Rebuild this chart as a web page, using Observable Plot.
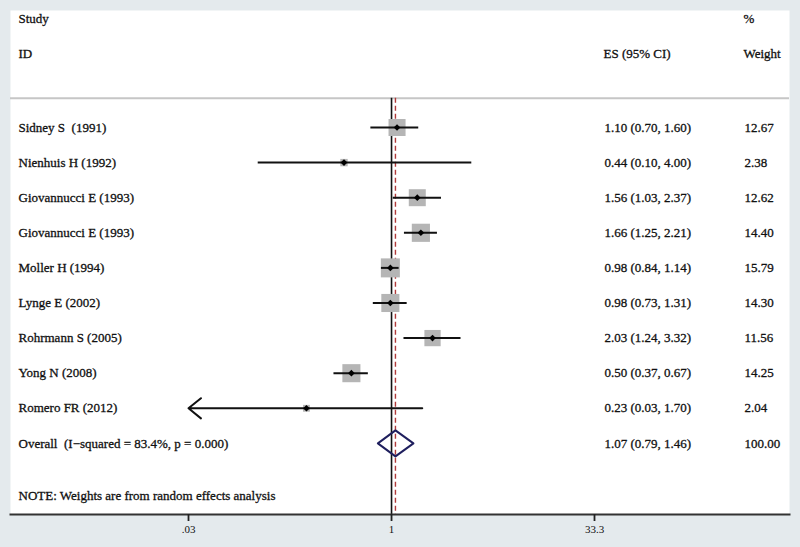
<!DOCTYPE html>
<html>
<head>
<meta charset="utf-8">
<script src="https://cdn.jsdelivr.net/npm/d3@7"></script>
<script src="https://cdn.jsdelivr.net/npm/@observablehq/plot@0.6"></script>
<style>
  html, body { margin: 0; padding: 0; background: #e4eaed; }
  svg text { white-space: pre; }
</style>
</head>
<body>
<div id="chart"></div>
<script>
const studies = ["Sidney S  (1991)", "Nienhuis H (1992)", "Giovannucci E (1993)", "Giovannucci E (1993)", "Moller H (1994)", "Lynge E (2002)", "Rohrmann S (2005)", "Yong N (2008)", "Romero FR (2012)"];
const es     = [1.10, 0.44, 1.56, 1.66, 0.98, 0.98, 2.03, 0.50, 0.23];
const lo     = [0.70, 0.10, 1.03, 1.25, 0.84, 0.73, 1.24, 0.37, 0.03];
const hi     = [1.60, 4.00, 2.37, 2.21, 1.14, 1.31, 3.32, 0.67, 1.70];
const weight = [12.67, 2.38, 12.62, 14.40, 15.79, 14.30, 11.56, 14.25, 2.04];

const overallLabel = "Overall  (I\u2212squared = 83.4%, p = 0.000)";
const overallES = 1.07, overallLo = 0.79, overallHi = 1.46, overallWeight = 100.00;
const note = "NOTE: Weights are from random effects analysis";

const tickValues = [0.03, 1, 33.3];
const tickLabels = [".03", "1", "33.3"];

const fmt = d3.format(".2f");
const rows = studies.map((s, i) => ({
  row: i, study: s, es: es[i], lo: lo[i], hi: hi[i], weight: weight[i],
  esText: `${fmt(es[i])} (${fmt(lo[i])}, ${fmt(hi[i])})`,
  wText: fmt(weight[i])
}));
const overallRow = studies.length;
const allRows = [...rows, {
  row: overallRow, study: overallLabel,
  esText: `${fmt(overallES)} (${fmt(overallLo)}, ${fmt(overallHi)})`,
  wText: fmt(overallWeight)
}];
const tickLabelFor = d => {
  const i = tickValues.findIndex(v => Math.abs(Math.log(v) - Math.log(+d)) < 1e-6);
  return i >= 0 ? tickLabels[i] : "";
};

const xMin = tickValues[0];
const headerRowStudy = -3.1, headerRowID = -2.1, sepRow = -0.83, noteRow = 10.5;
const yTop = -3.333, yBottom = 11.026;

const dh = 0.37;
const diamond = [
  {x: overallLo, y: overallRow},
  {x: overallES, y: overallRow - dh},
  {x: overallHi, y: overallRow},
  {x: overallES, y: overallRow + dh},
  {x: overallLo, y: overallRow}
];

const font = "Liberation Serif, Times New Roman, serif";
const ink = "#111";
const txt = {frameAnchor: "left", textAnchor: "start", fill: ink, stroke: ink, strokeWidth: 0.3, fontSize: 13};

const chart = Plot.plot({
  width: 800,
  height: 547,
  marginLeft: 10,
  marginRight: 11,
  marginTop: 10,
  marginBottom: 33,
  style: {background: "transparent", fontFamily: font, fontSize: "13px", color: ink},
  x: {type: "log", domain: [0.03, 33.3], range: [188, 594], axis: null},
  y: {domain: [yTop, yBottom], range: [10, 514], axis: null},
  r: {type: "sqrt", domain: [0, 16], range: [0, 10.8]},
  marks: [
    Plot.frame({fill: "white", stroke: null}),
    Plot.ruleY([sepRow], {stroke: "#c6c6c6", strokeWidth: 2}),
    // reference lines
    Plot.ruleX([1], {y1: sepRow, y2: yBottom, stroke: "#111", strokeWidth: 1.6}),
    Plot.ruleX([overallES], {y1: sepRow, y2: yBottom, stroke: "#b03a3a", strokeWidth: 1.4, strokeDasharray: "5,3"}),
    // weight boxes
    Plot.dot(rows, {x: "es", y: "row", r: "weight", symbol: "square", fill: "#b5b5b5", stroke: null}),
    // CIs
    Plot.ruleY(rows.filter(d => d.lo > xMin), {y: "row", x1: "lo", x2: "hi", stroke: "#111", strokeWidth: 2}),
    Plot.arrow(rows.filter(d => d.lo <= xMin), {x1: "hi", x2: "lo", y1: "row", y2: "row", stroke: "#111", strokeWidth: 2, headLength: 12, headAngle: 78}),
    // point estimates
    Plot.dot(rows, {x: "es", y: "row", symbol: "diamond2", r: 3, fill: "#000", stroke: null}),
    // overall diamond
    Plot.line(diamond, {x: "x", y: "y", stroke: "#1f1f5e", strokeWidth: 2}),
    // headers
    Plot.text([{t: "Study", row: headerRowStudy}, {t: "ID", row: headerRowID}], {...txt, text: "t", y: "row", dx: 8}),
    Plot.text([{t: "ES (95% CI)", row: headerRowID}], {...txt, text: "t", y: "row", dx: 593}),
    Plot.text([{t: "%", row: headerRowStudy}, {t: "Weight", row: headerRowID}], {...txt, text: "t", y: "row", dx: 733}),
    // row labels
    Plot.text(allRows, {...txt, text: "study", y: "row", dx: 8}),
    Plot.text(allRows, {...txt, text: "esText", y: "row", dx: 594}),
    Plot.text(allRows, {...txt, text: "wText", y: "row", dx: 734}),
    Plot.text([note], {...txt, text: d => d, y: noteRow, dx: 8}),
    // x axis
    Plot.frame({anchor: "bottom", stroke: "#333", strokeWidth: 2}),
    Plot.axisX({ticks: tickValues, tickFormat: tickLabelFor, tickSize: 7, tickPadding: 4, fontSize: 11, fill: ink, stroke: "#222", strokeWidth: 1.8})
  ]
});
document.getElementById("chart").appendChild(chart);
</script>
</body>
</html>
